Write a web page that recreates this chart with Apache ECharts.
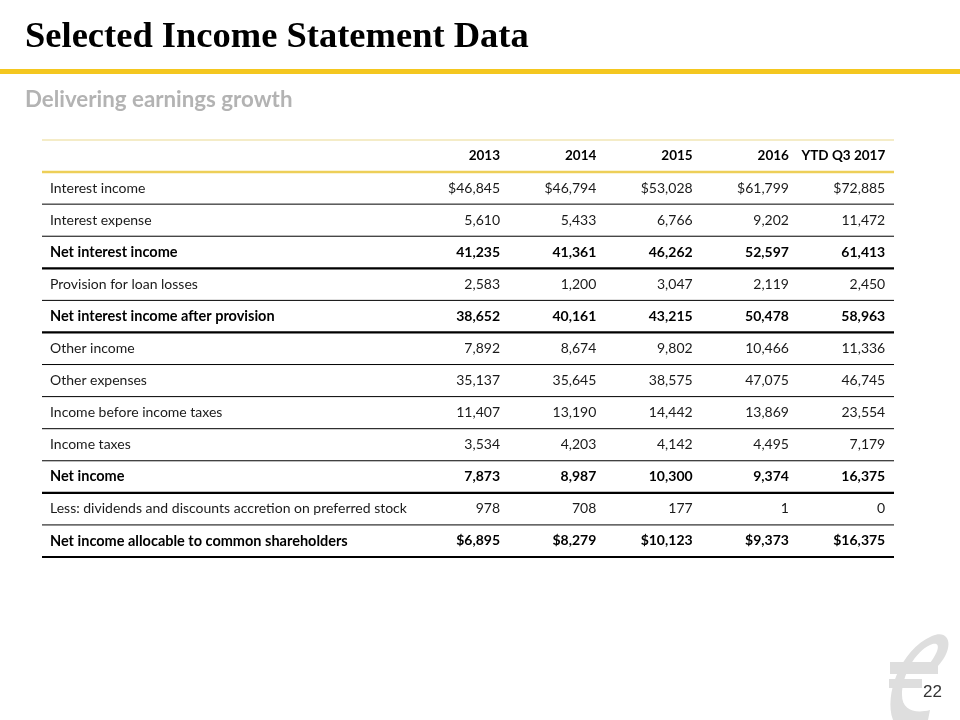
<!DOCTYPE html>
<html><head><meta charset="utf-8">
<script src="https://cdn.jsdelivr.net/npm/echarts@6/dist/echarts.min.js"></script>
<style>html,body{margin:0;padding:0;background:#fff}#c{width:960px;height:720px}</style>
</head><body><div id="c"></div>
<script>
const columns = ['2013', '2014', '2015', '2016', 'YTD Q3 2017'];
const rowLabels = [
  'Interest income',
  'Interest expense',
  'Net interest income',
  'Provision for loan losses',
  'Net interest income after provision',
  'Other income',
  'Other expenses',
  'Income before income taxes',
  'Income taxes',
  'Net income',
  'Less: dividends and discounts accretion on preferred stock',
  'Net income allocable to common shareholders'
];
const boldRows = [false, false, true, false, true, false, false, false, false, true, false, true];
const dollarRows = [true, false, false, false, false, false, false, false, false, false, false, true];

const interestIncome = [46845, 46794, 53028, 61799, 72885];
const interestExpense = [5610, 5433, 6766, 9202, 11472];
const netInterestIncome = [41235, 41361, 46262, 52597, 61413];
const provision = [2583, 1200, 3047, 2119, 2450];
const nilAfterProvision = [38652, 40161, 43215, 50478, 58963];
const otherIncome = [7892, 8674, 9802, 10466, 11336];
const otherExpenses = [35137, 35645, 38575, 47075, 46745];
const incomeBeforeTaxes = [11407, 13190, 14442, 13869, 23554];
const incomeTaxes = [3534, 4203, 4142, 4495, 7179];
const netIncome = [7873, 8987, 10300, 9374, 16375];
const preferredDividends = [978, 708, 177, 1, 0];
const netIncomeCommon = [6895, 8279, 10123, 9373, 16375];

const rowValues = [interestIncome, interestExpense, netInterestIncome, provision, nilAfterProvision,
  otherIncome, otherExpenses, incomeBeforeTaxes, incomeTaxes, netIncome, preferredDividends, netIncomeCommon];

const yCats = [''].concat(rowLabels);
const FONT = 'Lato, "Open Sans", sans-serif';

const cells = [];
columns.forEach((c, ci) => cells.push([ci + 1, 0, c, true]));
rowValues.forEach((vals, ri) => {
  vals.forEach((v, ci) => {
    const t = (dollarRows[ri] ? '$' : '') + v.toLocaleString('en-US');
    cells.push([ci + 1, ri + 1, t, boldRows[ri]]);
  });
});

const seps = [];
seps.push({ value: [0, -1], kind: 'top' });
seps.push({ value: [0, 0], kind: 'header' });
rowLabels.forEach((r, i) => seps.push({ value: [0, i + 1], kind: (boldRows[i] || i === rowLabels.length - 1) ? 'thick' : 'thin' }));

const chart = echarts.init(document.getElementById('c'), null, { renderer: 'canvas' });
chart.setOption({
  backgroundColor: '#ffffff',
  animation: false,
  grid: { left: 42, right: 66, top: 140, bottom: 163, containLabel: false },
  xAxis: { type: 'value', min: -3.756, max: 5.091, show: false },
  yAxis: {
    type: 'category', inverse: true, data: yCats, boundaryGap: true,
    axisLine: { show: false }, axisTick: { show: false }, splitLine: { show: false },
    axisLabel: {
      inside: true, margin: 8, fontFamily: FONT, fontSize: 14, color: '#1a1a1a',
      formatter: (v, i) => (i > 0 && boldRows[i - 1]) ? '{b|' + v + '}' : v,
      rich: { b: { fontFamily: FONT, fontSize: 14.5, fontWeight: 'bold', color: '#000' } }
    }
  },
  graphic: [
    { type: 'text', x: 25, y: 19, style: { text: 'Selected Income Statement Data', font: 'bold 36.5px "Liberation Serif", "DejaVu Serif", serif', fill: '#000' } },
    { type: 'rect', shape: { x: 0, y: 69, width: 960, height: 5 }, style: { fill: '#F4C71F' } },
    { type: 'text', x: 25, y: 100, style: { text: 'Delivering earnings growth', font: 'bold 22.3px Lato, "Open Sans", sans-serif', fill: '#B3B3B3', verticalAlign: 'middle' } },
    { type: 'text', x: 923, y: 684, style: { text: '22', font: '17px "Liberation Sans", Arial, sans-serif', fill: '#333' }, z: 10 }
  ],
  series: [
    {
      type: 'custom', coordinateSystem: 'none', silent: true, z: 1,
      data: [[0]],
      renderItem: () => ({
        type: 'group',
        children: [
          { type: 'path', shape: { pathData: 'M893 720 C884 695 900 650 932 636 C950 628 956 648 936 668 L926 668 C940 652 942 640 930 645 C915 652 902 675 902 695 C902 710 915 714 930 710 L928 720 Z' }, style: { fill: '#DEDEDE' } },
          { type: 'rect', shape: { x: 890, y: 662, width: 48, height: 12 }, style: { fill: '#DEDEDE' } },
          { type: 'rect', shape: { x: 889, y: 679, width: 33, height: 9 }, style: { fill: '#DEDEDE' } }
        ]
      })
    },
    {
      type: 'custom', coordinateSystem: 'cartesian2d', silent: true,
      data: seps,
      renderItem: (params, api) => {
        const cs = params.coordSys;
        const band = api.size([0, 1])[1];
        const item = seps[params.dataIndex];
        let y;
        if (item.kind === 'top') y = cs.y;
        else y = api.coord([0, api.value(1)])[1] + band / 2;
        let stroke = '#000', w = 1;
        if (item.kind === 'top') { stroke = '#EAD98F'; w = 1; }
        else if (item.kind === 'header') { stroke = '#EDCF58'; w = 2.5; }
        else if (item.kind === 'thick') { w = 2.2; }
        return { type: 'line', shape: { x1: cs.x, y1: y, x2: cs.x + cs.width, y2: y }, style: { stroke: stroke, lineWidth: w } };
      }
    },
    {
      type: 'custom', coordinateSystem: 'cartesian2d', silent: true,
      data: cells.map(c => [c[0], c[1]]),
      renderItem: (params, api) => {
        const c = cells[params.dataIndex];
        const p = api.coord([api.value(0), api.value(1)]);
        const hdr = c[1] === 0;
        return {
          type: 'text', x: p[0], y: p[1],
          style: { text: c[2], textAlign: 'right', textVerticalAlign: 'middle',
            font: (c[3] ? 'bold ' : '') + (hdr ? '13.5px ' : '14px ') + FONT, fill: c[3] ? '#000' : '#1a1a1a' }
        };
      }
    }
  ]
});
</script></body></html>
